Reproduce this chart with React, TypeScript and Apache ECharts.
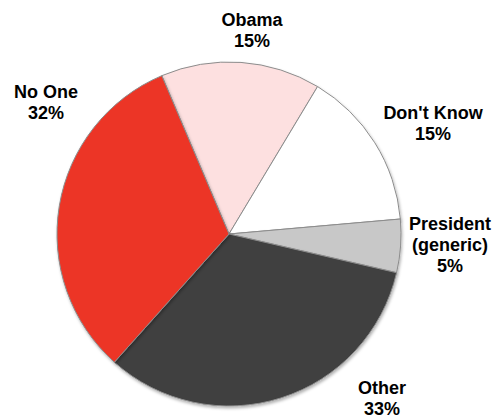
import React, { useEffect, useRef } from "react";
import * as echarts from "echarts";

const categories = ["Obama", "Don't Know", "President\n(generic)", "Other", "No One"];
const values = [15, 15, 5, 33, 32];
const colors = ["#fde0e0", "#ffffff", "#c8c8c8", "#404040", "#ec3526"];
const labelPos: [number, number][] = [
  [252, 30],
  [433, 123],
  [450, 245],
  [382, 398],
  [46, 102],
];

export default function App() {
  const ref = useRef<HTMLDivElement>(null);
  useEffect(() => {
    const chart = echarts.init(ref.current!, null, { renderer: "svg" });
    chart.setOption({
      animation: false,
      backgroundColor: "#ffffff",
      series: [
        {
          type: "pie",
          center: [229, 234],
          radius: 172,
          startAngle: 113,
          clockwise: true,
          data: categories.map((c, i) => ({
            name: c,
            value: values[i],
            itemStyle: { color: colors[i] },
          })),
          itemStyle: {
            borderColor: "#8c8c8c",
            borderWidth: 1,
            shadowBlur: 3,
            shadowOffsetX: 1,
            shadowOffsetY: 2,
            shadowColor: "rgba(0,0,0,0.3)",
          },
          label: {
            show: true,
            position: "outside",
            formatter: (p: any) => `${p.name}\n${p.value}%`,
            fontFamily: "Liberation Sans, Arial, sans-serif",
            fontWeight: "bold",
            fontSize: 18,
            lineHeight: 21,
            color: "#000",
            align: "center",
            overflow: "none",
            width: 200,
          },
          labelLine: { show: false },
          labelLayout: (params: any) => {
            const pos = labelPos[params.dataIndex];
            return { x: pos[0], y: pos[1], align: "center", verticalAlign: "middle" };
          },
        },
      ],
    });
    return () => chart.dispose();
  }, []);
  return (
    <div
      ref={ref}
      style={{ position: "fixed", left: 0, top: 0, width: 495, height: 417 }}
    />
  );
}
